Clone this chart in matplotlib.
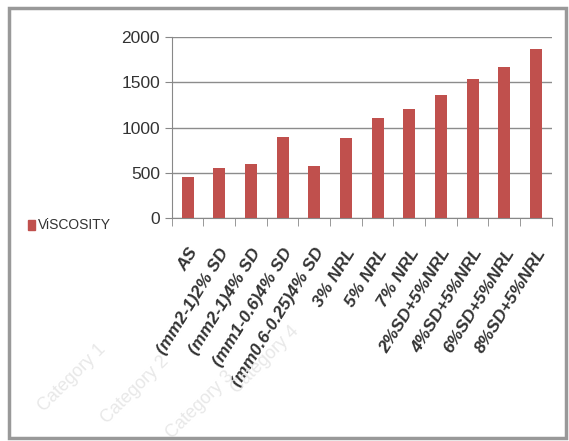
import matplotlib.pyplot as plt
from matplotlib.patches import Rectangle
import numpy as np

# data
categories = ["AS", "(mm2-1)2% SD", "(mm2-1)4% SD", "(mm1-0.6)4% SD",
              "(mm0.6-0.25)4% SD", "3% NRL", "5% NRL", "7% NRL",
              "2%SD+5%NRL", "4%SD+5%NRL", "6%SD+5%NRL", "8%SD+5%NRL"]
viscosity = [450, 550, 590, 900, 575, 880, 1100, 1200, 1360, 1540, 1675, 1870]
yticks = [0, 500, 1000, 1500, 2000]
watermarks = ["Category 1", "Category 2", "Category 3", "Category 4"]

plt.rcParams['font.family'] = ['Liberation Sans', 'DejaVu Sans']

fig = plt.figure(figsize=(5.69, 4.41), dpi=100)
ax = fig.add_axes([0.3018, 0.5063, 0.6678, 0.4091])

x = np.arange(len(categories))
ax.bar(x, viscosity, width=0.38, color='#C0504D', zorder=3)

ax.set_xlim(-0.5, len(categories) - 0.5)
ax.set_ylim(0, 2000)
ax.set_yticks(yticks)
ax.tick_params(axis='y', labelsize=12.5, colors='#888888', labelcolor='#333333',
               length=5, direction='out')
ax.grid(axis='y', color='#8c8c8c', linewidth=1, zorder=0)

# category labels, rotated (source image is stretched vertically)
ax.set_xticks(x)
ax.set_xticklabels(categories, rotation=58, ha='right', va='top',
                   rotation_mode='anchor', fontsize=12.5, style='italic',
                   fontweight='bold', color='#333333')
ax.tick_params(axis='x', length=0, pad=20)
ax.set_xticks(np.arange(-0.5, len(categories)), minor=True)
ax.tick_params(axis='x', which='minor', length=6, color='#888888')

for s in ['top', 'right']:
    ax.spines[s].set_visible(False)
for s in ['left', 'bottom']:
    ax.spines[s].set_color('#888888')

# legend on the left
fig.patches.append(Rectangle((28 / 569, 1 - 230 / 441), 7 / 569, 10 / 441,
                             transform=fig.transFigure, color='#C0504D'))
fig.text(38 / 569, 1 - 225 / 441, "ViSCOSITY", fontsize=10,
         color='#333333', va='center', ha='left')

# faint watermark text from the source image
wm_pos = [(72, 378), (135, 390), (200, 405), (265, 360)]
for t, (px, py) in zip(watermarks, wm_pos):
    fig.text(px / 569, 1 - py / 441, t, fontsize=13, rotation=45,
             color='#e8e8e8', ha='center', va='center', zorder=0)

# outer frame
fig.patches.append(Rectangle((9 / 569, 3 / 441), 557 / 569, 430 / 441,
                             transform=fig.transFigure, fill=False,
                             edgecolor='#999999', linewidth=2.5))

fig.savefig("out.png", dpi=100)
